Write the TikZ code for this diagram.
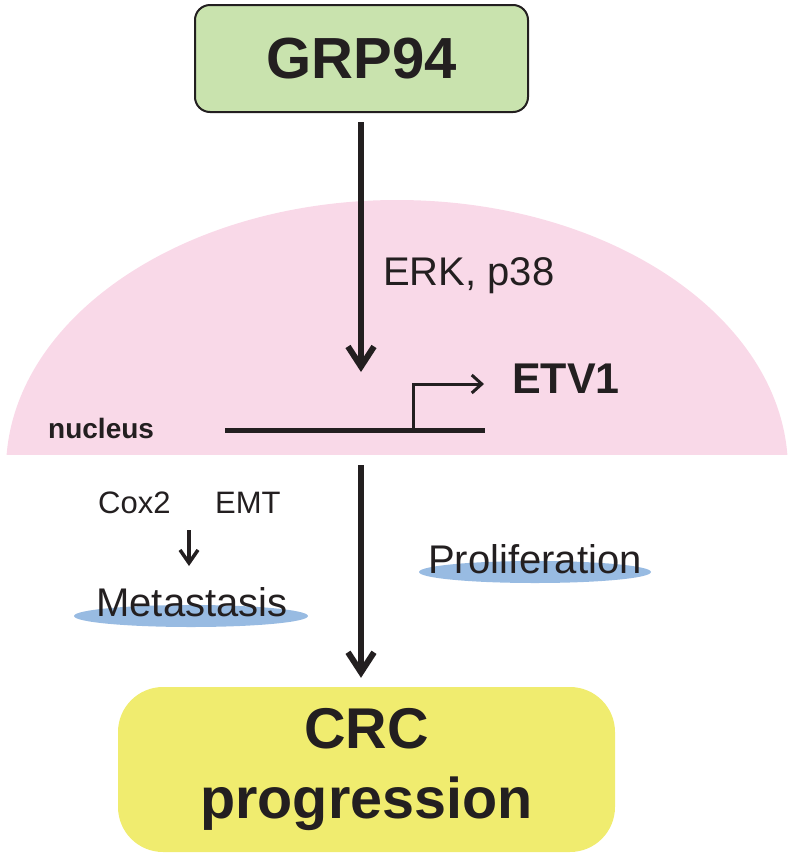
\documentclass[tikz,border=0pt]{standalone}
\usepackage{fontspec}
\setmainfont{Liberation Sans}
\usetikzlibrary{arrows.meta}
\definecolor{ink}{HTML}{231F20}
\definecolor{grpgreen}{HTML}{C9E3AE}
\definecolor{nucpink}{HTML}{F9D9E8}
\definecolor{ovalblue}{HTML}{98BBE2}
\definecolor{crcyellow}{HTML}{F0EC6F}
\begin{document}
\begin{tikzpicture}[x=1pt,y=-1pt,
  every node/.style={text=ink, inner sep=0pt},
  topbox/.style={draw=ink, line width=2pt, fill=grpgreen, rounded corners=15pt,
    minimum width=333pt, minimum height=107pt, font=\bfseries\fontsize{58}{70}\selectfont},
  crcbox/.style={fill=crcyellow, rounded corners=45pt, minimum width=497pt,
    minimum height=165pt, align=center, font=\bfseries\fontsize{57.5}{70}\selectfont},
  bigarrow/.style={draw=ink, line width=6pt, -{Straight Barb[length=20pt,width=26pt]}},
  smallarrow/.style={draw=ink, line width=3.5pt, -{Straight Barb[length=13pt,width=18pt]}},
  promarrow/.style={draw=ink, line width=3pt, -{Straight Barb[length=10pt,width=18pt]}},
  geneline/.style={draw=ink, line width=5pt},
  oval/.style={fill=ovalblue, draw=none},
  labelfont/.style={font=\fontsize{40}{48}\selectfont},
  smallfont/.style={font=\fontsize{31}{37}\selectfont}
]
\useasboundingbox (0,0) rectangle (790,860);

% nucleus dome
\begin{scope}
  \clip (0,0) rectangle (790,454);
  \fill[nucpink] (397,470) ellipse[x radius=391, y radius=270];
\end{scope}

% top box
\node[topbox] (grp) at (361.5,58.5) {GRP94};

% arrow 1
\coordinate (a1s) at (361,122);
\coordinate (a1e) at (361,372);
\draw[bigarrow] (a1s) -- (a1e);
\node[labelfont, anchor=base west] (erk) at (383,285) {ERK, p38};

% gene with promoter arrow
\coordinate (g1) at (225,430);
\coordinate (g2) at (485,430);
\coordinate (p0) at (413,430);
\coordinate (p1) at (413,384);
\coordinate (p2) at (484,384);
\draw[geneline] (g1) -- (g2);
\draw[promarrow] (p0) -- (p1) -- (p2);
\node[anchor=base west, font=\bfseries\fontsize{43}{50}\selectfont] (etv) at (512,393) {ETV1};
\node[anchor=base west, font=\bfseries\fontsize{28}{34}\selectfont] (nuc) at (48,438) {nucleus};

% left effects
\node[smallfont, anchor=base west] (cox) at (98,513) {Cox2};
\node[smallfont, anchor=base west] (emt) at (215,513) {EMT};
\coordinate (s1) at (189,530);
\coordinate (s2) at (189,566);
\draw[smallarrow] (s1) -- (s2);
\fill[oval] (191,616) ellipse[x radius=117, y radius=11];
\node[labelfont, anchor=base] (meta) at (192,616) {Metastasis};

% right effect
\fill[oval] (535,572) ellipse[x radius=116, y radius=11];
\node[labelfont, anchor=base] (prol) at (535,573) {Proliferation};

% bottom box
\node[crcbox] (crc) at (366.5,769.5) {CRC\\progression};

% arrow 2
\coordinate (a2s) at (361,465);
\draw[bigarrow, shorten >=9pt] (a2s) -- (a2s |- crc.north);
\end{tikzpicture}
\end{document}
